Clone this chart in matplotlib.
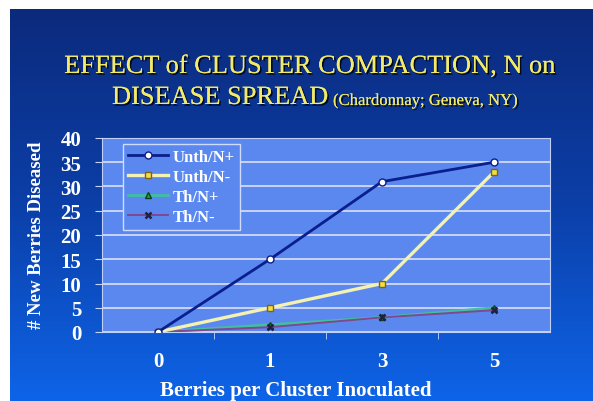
import numpy as np
import matplotlib.pyplot as plt
import matplotlib.patheffects as pe
from matplotlib.colors import LinearSegmentedColormap

# datos
categorias = ['0', '1', '3', '5']
unth_np = [0, 15, 31, 35]
unth_nm = [0, 5, 10, 33]
th_np = [0, 1.5, 3, 5]
th_nm = [0, 1, 3, 4.5]
yticks = [0, 5, 10, 15, 20, 25, 30, 35, 40]

W, H = 593, 402
fig = plt.figure(figsize=(W / 100, H / 100), dpi=100)
fig.patch.set_facecolor('white')

# fondo degradado azul (tipo diapositiva)
bg = fig.add_axes([10 / W, 0, 1 - 10 / W, 1 - 10 / H])
bg.set_axis_off()
cmap = LinearSegmentedColormap.from_list('slide', ['#0c2a7c', '#0b3fa8', '#0e64e8'])
grad = np.linspace(0, 1, 256).reshape(-1, 1)
bg.imshow(grad, aspect='auto', cmap=cmap, extent=[0, 1, 0, 1], origin='upper')
bg.set_xlim(0, 1)
bg.set_ylim(0, 1)

serif = 'Liberation Serif'
amarillo = '#f2ea6a'
sombra = [pe.withSimplePatchShadow(offset=(1.2, -1.2), shadow_rgbFace='black', alpha=0.8),
          pe.Normal()]

fig.text(310 / W, 1 - 68 / H, 'EFFECT of CLUSTER COMPACTION, N on', color=amarillo,
         fontsize=19, family=serif, ha='center', va='center', path_effects=sombra)
fig.text(112 / W, 1 - 99 / H, 'DISEASE SPREAD', color=amarillo,
         fontsize=19, family=serif, ha='left', va='center', path_effects=sombra)
fig.text(333 / W, 1 - 102 / H, '(Chardonnay; Geneva, NY)', color=amarillo,
         fontsize=12, family=serif, ha='left', va='center', path_effects=sombra)

ax = fig.add_axes([102 / W, 1 - 333 / H, (550 - 102) / W, (333 - 139) / H])
ax.set_facecolor('#5b88ef')
x = np.arange(len(categorias))

ax.plot(x, unth_np, color='#0a1e8c', lw=2, marker='o', ms=5,
        mfc='white', mec='#0a1e8c', label='Unth/N+', zorder=5)
ax.plot(x, unth_nm, color='#f4f2b0', lw=2.4, marker='s', ms=5,
        mfc='#f0e040', mec='#806020', label='Unth/N-', zorder=4)
ax.plot(x, th_np, color='#40c0a0', lw=2, marker='^', ms=5,
        mfc='#20a040', mec='#104020', label='Th/N+', zorder=3)
ax.plot(x, th_nm, color='#804890', lw=1.4, marker='x', ms=5,
        mec='#202040', mew=1.8, label='Th/N-', zorder=3)

ax.set_xlim(-0.5, len(categorias) - 0.5)
ax.set_ylim(0, 40)
ax.set_yticks(yticks)
ax.set_xticks(x)
ax.set_xticklabels(categorias)
ax.set_xticks(np.arange(0.5, len(categorias) - 0.5, 1), minor=True)
ax.yaxis.grid(True, color='#c8d4f8', lw=1.4)
ax.set_axisbelow(True)
for s in ['left', 'right', 'top', 'bottom']:
    ax.spines[s].set_color('#c0d0f8')
ax.tick_params(axis='x', which='major', length=0, pad=14)
ax.tick_params(axis='x', which='minor', length=5, color='#c8d4f8', direction='out')
ax.tick_params(axis='y', length=5, color='#c8d4f8', pad=10)
for t in ax.get_xticklabels() + ax.get_yticklabels():
    t.set_family(serif)
    t.set_fontweight('bold')
    t.set_fontsize(15)
    t.set_color('white')

fig.text(37 / W, 1 - 235 / H, '# New Berries Diseased', family=serif, fontweight='bold',
         fontsize=13.5, color='white', rotation=90, ha='center', va='center')
fig.text(296 / W, 1 - 391 / H, 'Berries per Cluster Inoculated', family=serif,
         fontweight='bold', fontsize=15, color='white', ha='center', va='center')

leg = ax.legend(loc='upper left', bbox_to_anchor=(21 / 448, 0.97), frameon=True,
                prop={'family': serif, 'weight': 'bold', 'size': 12},
                handlelength=2.4, handletextpad=0.3, borderpad=0.3,
                labelspacing=0.25, borderaxespad=0, fancybox=False)
leg.get_frame().set_facecolor('#5b88ef')
leg.get_frame().set_edgecolor('#d0dcff')
leg.get_frame().set_alpha(1)
for t in leg.get_texts():
    t.set_color('white')

fig.savefig('out.png', dpi=100)
